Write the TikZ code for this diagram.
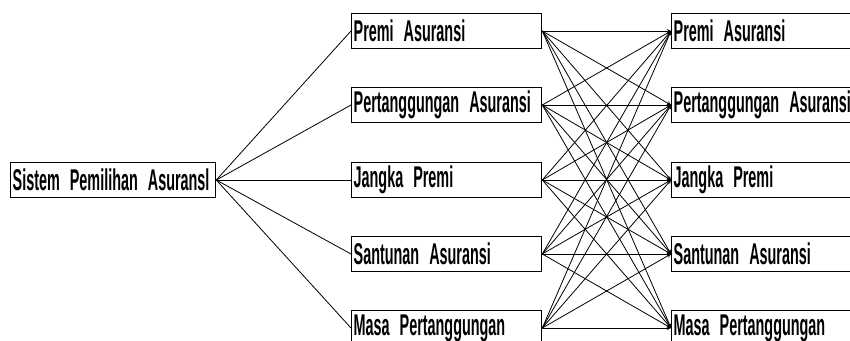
\documentclass[tikz,border=0pt]{standalone}
\usepackage{fontspec}
\setmainfont{Liberation Sans}[FakeStretch=0.48]
\newcommand{\hurufkotak}{\fontsize{30}{30}\selectfont\bfseries\spaceskip=3pt\xspaceskip=3pt}
\begin{document}
\begin{tikzpicture}[x=1pt, y=-1pt, >=stealth,
	kotak/.style={draw, line width=1.3pt, minimum height=35pt, text width=186pt, inner xsep=2pt, inner ysep=0pt, align=left, anchor=west, font=\hurufkotak},
	garis/.style={line width=0.8pt}]
	\useasboundingbox (0,0) rectangle (850,340);
	\clip (0,0) rectangle (850,340);
	\node [kotak, text width=201pt] (sistem) at (10,180) {Sistem Pemilihan Asuransl};
	\foreach \i/\t/\y in {1/Premi Asuransi/31, 2/Pertanggungan Asuransi/105, 3/Jangka Premi/180, 4/Santunan Asuransi/254, 5/Masa Pertanggungan/328} {
		\node [kotak] (m\i) at (351,\y) {\t};
		\node [kotak] (r\i) at (671,\y) {\t};
		\draw [garis] (sistem.east) -- (m\i.west);
	}
	% semua kriteria ke semua kriteria
	\foreach \i in {1,...,5}
		\foreach \j in {1,...,5}
			\draw [garis, ->] (m\i.east) -- (r\j.west);
\end{tikzpicture}
\end{document}
